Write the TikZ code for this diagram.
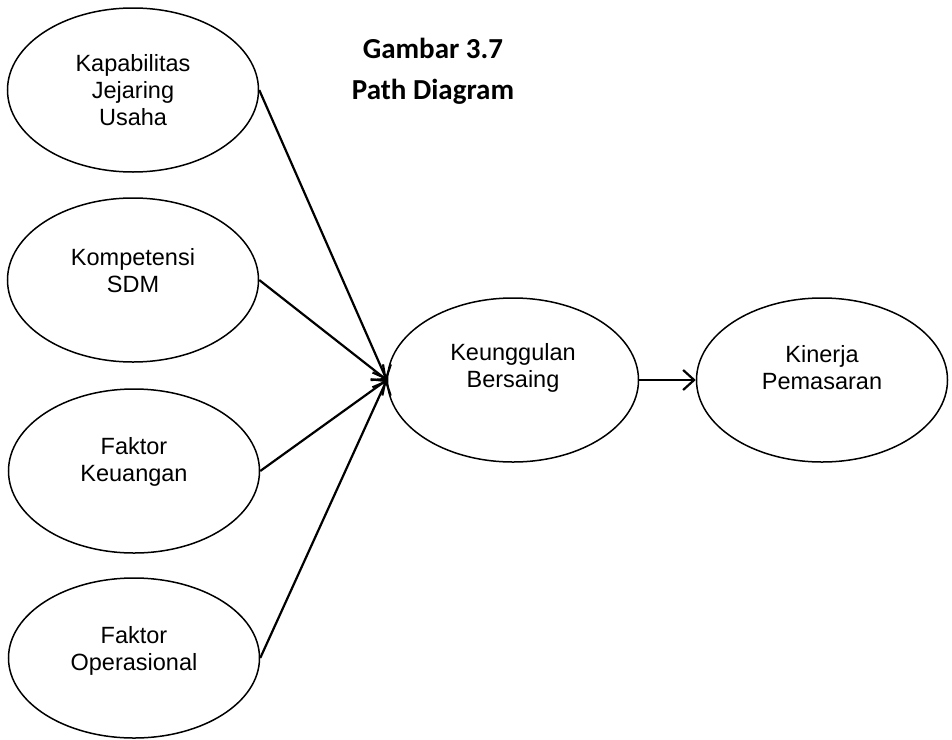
\documentclass[tikz,border=0pt]{standalone}
\usepackage{fontspec}
\setmainfont{Liberation Sans}
\newfontfamily\titlefont{Carlito}
\usetikzlibrary{shapes.geometric,arrows.meta}

\begin{document}
\begin{tikzpicture}[x=1pt,y=-1pt,
  construct/.style={ellipse,draw,line width=1.5pt,minimum width=251pt,minimum height=164pt,inner sep=0pt},
  caption/.style={align=center,font=\fontsize{23.5}{27}\selectfont},
  heading/.style={font=\titlefont\bfseries\fontsize{29}{34}\selectfont},
  path/.style={line width=2.2pt,-{Straight Barb[length=11pt,width=20pt,line width=2.2pt]}}
]
\useasboundingbox (0,0) rectangle (952,739);

% title
\node[heading] (t1) at (433,48) {Gambar 3.7};
\node[heading] (t2) at (433,92) {Path Diagram};

% exogenous constructs
\node[construct] (kap) at (133,90) {};
\node[caption]   (kapT) at (133,90) {Kapabilitas\\Jejaring\\Usaha};

\node[construct] (kom) at (133,280) {};
\node[caption]   (komT) at (133,271) {Kompetensi\\SDM};

\node[construct] (fin) at (134,471) {};
\node[caption]   (finT) at (134,462) {Faktor\\Keuangan};

\node[construct,minimum height=160pt] (ops) at (134,658) {};
\node[caption]   (opsT) at (134,651) {Faktor\\Operasional};

% endogenous constructs
\node[construct] (keu) at (513,380) {};
\node[caption]   (keuT) at (513,368) {Keunggulan\\Bersaing};

\node[construct] (kin) at (822,380) {};
\node[caption]   (kinT) at (822,368) {Kinerja\\Pemasaran};

% paths
\draw[path] (kap.east) -- (keu.west);
\draw[path] (kom.east) -- (keu.west);
\draw[path] (fin.east) -- (keu.west);
\draw[path] (ops.east) -- (keu.west);
\draw[path] (keu.east) -- (kin.west);
\end{tikzpicture}
\end{document}
